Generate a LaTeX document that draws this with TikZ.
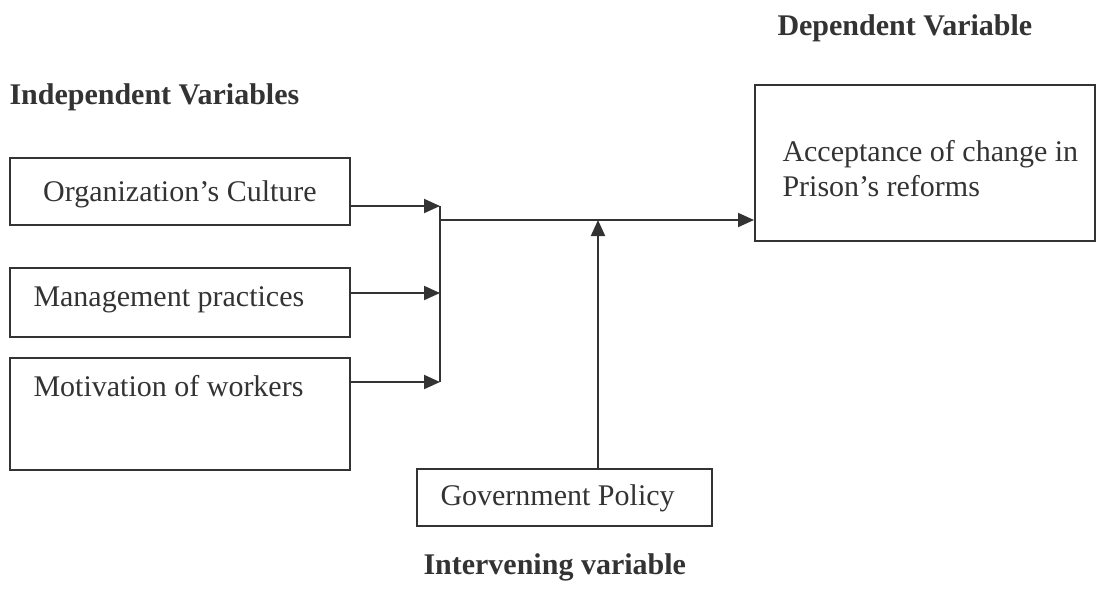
\documentclass[tikz,border=0pt]{standalone}
\usepackage{fontspec}
\setmainfont{Liberation Serif}
\usetikzlibrary{arrows.meta,positioning}

\begin{document}
\begin{tikzpicture}[
    x=0.4pt, y=-0.4pt,
    every node/.style={font=\fontsize{12}{14.4}\selectfont, text=black!80},
    box/.style={rectangle, draw=black!80, line width=0.8pt, inner sep=0pt},
    txt/.style={inner sep=0pt, anchor=base west},
    head/.style={txt, font=\fontsize{12}{14.4}\selectfont\bfseries},
    wire/.style={line width=0.8pt, draw=black!80},
    connection/.style={wire, -{Triangle[length=6.4pt,width=5.6pt]}}
]
\useasboundingbox (0,0) rectangle (1097,588);

% Headings
\node[head] (indephead) at (9,104) {Independent Variables};
\node[head] (dephead) at (777,35) {Dependent Variable};
\node[head] (intervhead) at (423,574) {Intervening variable};

% Independent variables
\node[box, minimum width=136pt, minimum height=26.8pt] (org) at (180,191.5) {};
\node[box, minimum width=136pt, minimum height=27.6pt] (mgmt) at (180,302.5) {};
\node[box, minimum width=136pt, minimum height=44.8pt] (motiv) at (180,414) {};
\node[txt, anchor=base] (orgtxt) at (180,201) {Organization’s Culture};
\node[txt] (mgmttxt) at (33,306) {Management practices};
\node[txt] (motivtxt) at (33,396) {Motivation of workers};

% Dependent variable
\node[box, minimum width=136pt, minimum height=62.4pt] (dep) at (925,163) {};
\node[txt] (deptxt1) at (782,161) {Acceptance of change in};
\node[txt] (deptxt2) at (782,196) {Prison’s reforms};

% Intervening variable
\node[box, minimum width=118pt, minimum height=22.8pt] (gov) at (564.5,497.5) {};
\node[txt] (govtxt) at (440,505) {Government Policy};

% Junctions
\coordinate (jorg) at (440,206);
\coordinate (jmgmt) at (440,293);
\coordinate (jmot) at (440,382);
\coordinate (jout) at (440,220);
\coordinate (jgov) at (598,220);

% Connections
\draw[connection] (org.east |- jorg) -- (jorg);
\draw[connection] (mgmt.east |- jmgmt) -- (jmgmt);
\draw[connection] (motiv.east |- jmot) -- (jmot);
\draw[wire] (jorg) -- (jmot);
\draw[connection] (jout) -- (jout -| dep.west);
\draw[connection] (gov.north -| jgov) -- (jgov);

\end{tikzpicture}
\end{document}
